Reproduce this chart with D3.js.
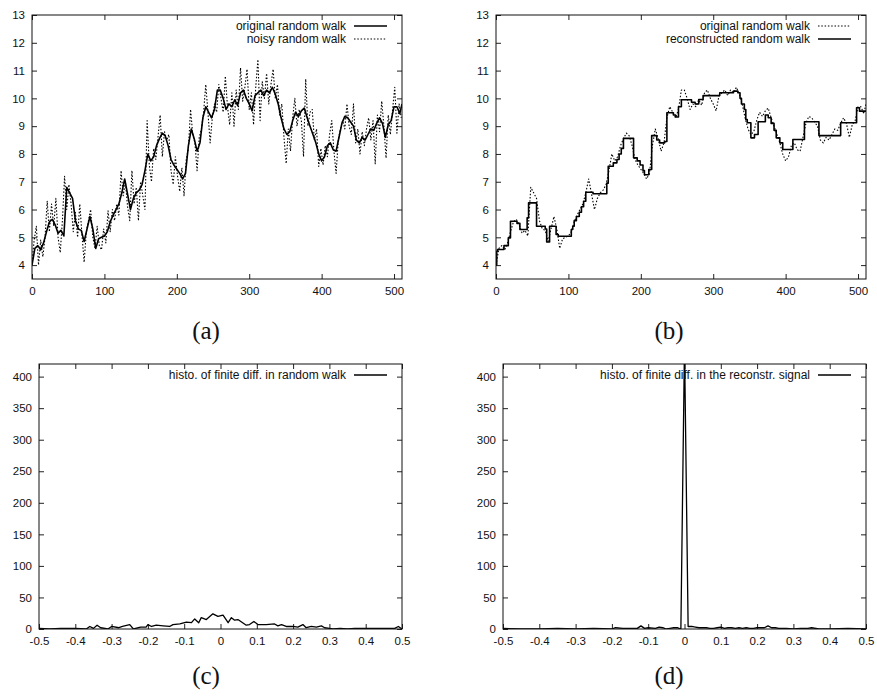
<!DOCTYPE html>
<meta charset="utf-8">
<style>
body { margin: 0; background: #fff; }
text { font-family: "Liberation Sans", Arial, sans-serif; fill: #111; }
.tick text { font-size: 11.5px; }
.legend text { font-size: 12px; }
.caption { font-family: "Liberation Serif", serif; font-size: 25px; }
</style>
<body></body>
<script src="https://cdnjs.cloudflare.com/ajax/libs/d3/7.8.5/d3.min.js"></script>
<script>
// [sample index, value] (a)/(b)
const originalWalk = [
  [0,4.0],[4,4.6],[8,4.7],[12,4.55],[16,4.8],[20,5.2],[24,5.55],[28,5.65],[32,5.45],[36,5.15],
  [40,5.25],[44,5.05],[48,6.8],[52,6.6],[56,6.4],[60,5.6],[64,5.3],[68,5.25],[72,4.85],[76,5.3],
  [80,5.75],[84,5.3],[88,4.6],[92,4.95],[96,5.0],[100,5.05],[104,5.2],[108,5.55],[112,5.8],[116,6.0],
  [120,6.2],[124,6.6],[128,7.1],[132,6.55],[136,6.0],[140,6.4],[144,6.6],[148,6.7],[152,6.9],[156,7.4],
  [160,8.0],[164,7.75],[168,7.9],[172,8.3],[176,8.55],[180,8.75],[184,8.65],[188,8.3],[192,7.8],[196,7.6],
  [200,7.45],[204,7.3],[208,7.1],[212,7.3],[216,8.3],[220,8.9],[224,8.55],[228,8.1],[232,8.4],[236,9.3],
  [240,9.7],[244,9.5],[248,9.3],[252,9.6],[256,10.3],[260,10.3],[264,10.0],[268,9.6],[272,9.8],[276,9.7],
  [280,9.95],[284,9.75],[288,10.2],[292,10.3],[296,10.0],[300,9.8],[304,9.55],[308,10.1],[312,10.2],[316,10.3],
  [320,10.1],[324,10.3],[328,10.2],[332,10.4],[336,10.15],[340,9.8],[344,9.3],[348,8.9],[352,8.7],[356,8.8],
  [360,9.2],[364,9.5],[368,9.35],[372,9.55],[376,9.65],[380,9.3],[384,9.0],[388,8.7],[392,8.4],[396,8.0],
  [400,7.75],[404,7.9],[408,8.3],[412,8.4],[416,8.15],[420,8.1],[424,8.6],[428,9.1],[432,9.35],[436,9.3],
  [440,9.15],[444,9.0],[448,8.5],[452,8.4],[456,8.6],[460,8.5],[464,8.7],[468,8.9],[472,8.85],[476,9.1],
  [480,9.3],[484,9.1],[488,8.6],[492,9.05],[496,9.2],[500,9.7],[504,9.7],[508,9.45],[511,9.8]
]

const noisyWalk = [
  [0,4.1],[3,4.9],[6,5.4],[9,4.0],[12,4.9],[15,4.3],[18,5.0],[21,6.3],[24,5.2],[27,6.2],
  [30,5.4],[33,6.4],[36,5.0],[39,4.45],[42,5.6],[45,7.2],[48,6.0],[51,6.9],[54,6.2],[57,5.2],
  [60,5.9],[63,5.0],[66,6.2],[69,5.1],[72,4.1],[75,5.2],[78,5.6],[81,6.0],[84,5.0],[87,4.6],
  [90,5.4],[93,4.7],[96,4.55],[99,5.3],[102,4.8],[105,5.95],[108,5.2],[111,6.0],[114,5.6],[117,6.2],
  [120,5.8],[123,7.4],[126,6.5],[129,7.0],[132,6.1],[135,5.6],[138,7.4],[141,6.2],[144,6.8],[147,5.6],
  [150,7.0],[153,6.5],[156,6.0],[159,9.2],[162,7.6],[165,7.0],[168,8.2],[171,7.8],[174,8.6],[177,9.4],
  [180,7.9],[183,8.8],[186,8.5],[189,8.7],[192,7.4],[195,6.9],[198,7.9],[201,7.2],[204,6.65],[207,7.5],
  [210,6.5],[213,7.8],[216,8.2],[219,9.6],[222,8.7],[225,8.4],[228,7.4],[231,8.6],[234,8.9],[237,9.5],
  [240,10.5],[243,9.5],[246,8.4],[249,9.3],[252,9.8],[255,9.5],[258,10.5],[261,10.0],[264,9.5],[267,10.8],
  [270,9.7],[273,9.05],[276,10.2],[279,9.0],[282,10.3],[285,9.6],[288,11.1],[291,9.9],[294,10.4],[297,11.05],
  [300,9.6],[303,10.2],[306,9.05],[309,10.4],[312,11.4],[315,9.2],[318,10.6],[321,10.0],[324,10.9],[327,9.8],
  [330,10.5],[333,11.05],[336,10.0],[339,10.5],[342,9.4],[345,9.8],[348,8.6],[351,7.65],[354,8.9],[357,8.1],
  [360,9.3],[363,10.0],[366,9.0],[369,9.6],[372,9.2],[375,7.9],[378,10.7],[381,9.0],[384,9.5],[387,9.6],
  [390,8.5],[393,8.9],[396,7.55],[399,8.2],[402,7.6],[405,8.3],[408,7.9],[411,8.7],[414,9.2],[417,8.1],
  [420,7.3],[423,8.5],[426,8.9],[429,9.2],[432,8.9],[435,9.8],[438,9.0],[441,8.7],[444,9.8],[447,8.4],
  [450,8.9],[453,8.0],[456,8.8],[459,8.3],[462,8.9],[465,9.3],[468,8.5],[471,9.2],[474,7.65],[477,9.4],
  [480,8.8],[483,9.9],[486,9.0],[489,7.85],[492,9.4],[495,8.7],[498,9.6],[501,10.4],[504,8.75],[507,9.8],
  [510,9.3]
]

// piecewise-constant reconstruction: [start index, level]
const reconstructedSteps = [
  [0,4.0],[1,4.5],[2,4.56],[11,4.7],[17,4.98],[20,5.58],[29,5.5],[33,5.28],[43,5.7],[45,6.24],
  [56,5.4],[68,5.3],[70,4.83],[74,5.4],[83,5.1],[86,5.04],[104,5.28],[106,5.4],[108,5.6],[111,5.75],
  [115,5.9],[118,6.1],[121,6.3],[124,6.62],[134,6.57],[153,6.95],[155,7.56],[162,7.68],[167,7.8],[170,8.0],
  [173,8.2],[176,8.56],[190,7.86],[195,7.75],[199,7.6],[203,7.4],[205,7.25],[211,7.44],[215,8.66],[222,8.5],
  [226,8.4],[233,8.45],[236,9.48],[245,9.4],[248,9.33],[252,9.7],[256,9.95],[270,9.86],[275,9.8],[280,9.96],
  [286,10.1],[309,10.2],[328,10.26],[334,10.2],[337,10.0],[339,9.8],[343,9.6],[345,9.24],[347,9.12],[352,8.58],
  [357,8.7],[362,9.16],[372,9.4],[376,9.3],[380,9.1],[384,8.85],[387,8.58],[392,8.4],[396,8.16],[410,8.52],
  [426,9.16],[446,8.66],[476,9.12],[498,9.66],[502,9.54],[511,9.54]
]

// histograms: [difference, count]
const histRandomWalk = [
  [-0.5,1],[-0.47,0],[-0.44,1],[-0.4,1],[-0.37,0],[-0.36,4],[-0.35,1],[-0.34,6],[-0.33,2],[-0.31,0],
  [-0.3,4],[-0.28,2],[-0.27,4],[-0.25,7],[-0.24,0],[-0.22,3],[-0.205,3],[-0.2,7],[-0.19,4],[-0.177,6],
  [-0.158,5],[-0.14,4],[-0.131,7],[-0.112,8],[-0.094,11],[-0.08,10],[-0.071,16],[-0.06,10],[-0.053,18],[-0.039,15],
  [-0.021,24],[-0.007,20],[0.007,22],[0.021,10],[0.03,18],[0.039,14],[0.048,15],[0.071,6],[0.08,7],[0.092,12],
  [0.103,7],[0.126,7],[0.149,8],[0.158,5],[0.168,7],[0.181,4],[0.2,4],[0.213,3],[0.227,7],[0.236,2],
  [0.25,4],[0.264,3],[0.278,5],[0.287,2],[0.3,1],[0.31,0],[0.33,1],[0.35,0],[0.37,1],[0.39,1],
  [0.41,1],[0.44,1],[0.48,1],[0.49,4],[0.5,0]
]

const histReconstructed = [
  [-0.5,1],[-0.45,0],[-0.4,0],[-0.35,1],[-0.3,0],[-0.25,1],[-0.2,0],[-0.19,2],[-0.17,1],[-0.15,1],
  [-0.13,1],[-0.12,5],[-0.11,1],[-0.1,2],[-0.08,1],[-0.07,3],[-0.06,2],[-0.05,0],[-0.04,1],[-0.03,2],
  [-0.02,2],[-0.01,0],[0,450],[0.01,4],[0.02,4],[0.03,3],[0.04,2],[0.05,2],[0.06,2],[0.07,1],
  [0.08,1],[0.09,2],[0.1,3],[0.11,1],[0.12,2],[0.13,2],[0.14,1],[0.15,2],[0.16,1],[0.17,2],
  [0.18,1],[0.19,1],[0.2,2],[0.21,2],[0.22,2],[0.23,5],[0.24,2],[0.25,2],[0.26,1],[0.28,1],
  [0.3,0],[0.32,1],[0.34,1],[0.35,2],[0.37,0],[0.4,0],[0.45,1],[0.5,0]
]

const walkXTicks = [0, 100, 200, 300, 400, 500]
const walkYTicks = [4, 5, 6, 7, 8, 9, 10, 11, 12, 13]
const histXTicks = [-0.5, -0.4, -0.3, -0.2, -0.1, 0, 0.1, 0.2, 0.3, 0.4, 0.5]
const histYTicks = [0, 50, 100, 150, 200, 250, 300, 350, 400]

const DOTTED = '1.5,1.8'

const svg = d3.select('body').append('svg')
    .attr('width', 877)
    .attr('height', 696)

let clipId = 0

function createPanel (box, xDomain, yDomain, xTicks, yTicks) {
    const x = d3.scaleLinear().domain(xDomain).range([box.left, box.right])
    const y = d3.scaleLinear().domain(yDomain).range([box.bottom, box.top])
    const g = svg.append('g')
    const fmt = d => String(+d.toFixed(1))
    const tick = 5

    g.append('g')
        .attr('transform', `translate(0,${box.bottom})`)
        .call(d3.axisBottom(x).tickValues(xTicks).tickFormat(fmt).tickSize(-tick).tickPadding(8))
    g.append('g')
        .attr('transform', `translate(0,${box.top})`)
        .call(d3.axisTop(x).tickValues(xTicks).tickFormat('').tickSize(-tick))
    g.append('g')
        .attr('transform', `translate(${box.left},0)`)
        .call(d3.axisLeft(y).tickValues(yTicks).tickFormat(fmt).tickSize(-tick).tickPadding(7))
    g.append('g')
        .attr('transform', `translate(${box.right},0)`)
        .call(d3.axisRight(y).tickValues(yTicks).tickFormat('').tickSize(-tick))

    g.selectAll('.domain').remove()
    g.selectAll('.tick line').attr('stroke', '#222')
    g.selectAll('.tick text').attr('font-family', null).attr('font-size', null).attr('fill', '#111')

    const id = 'clip' + (clipId++)
    g.append('clipPath').attr('id', id)
        .append('rect')
            .attr('x', box.left).attr('y', box.top)
            .attr('width', box.right - box.left).attr('height', box.bottom - box.top)

    const plot = g.append('g').attr('clip-path', `url(#${id})`)

    g.append('rect')
        .attr('x', box.left).attr('y', box.top)
        .attr('width', box.right - box.left).attr('height', box.bottom - box.top)
        .attr('fill', 'none')
        .attr('stroke', '#111')
        .attr('stroke-width', 1)

    return { g, plot, x, y, box }
}

function drawSeries (panel, data, dash, width, curve) {
    const line = d3.line()
        .x(d => panel.x(d[0]))
        .y(d => panel.y(d[1]))
        .curve(curve || d3.curveLinear)
    panel.plot.append('path')
        .datum(data)
        .attr('d', line)
        .attr('fill', 'none')
        .attr('stroke', '#000')
        .attr('stroke-width', width)
        .attr('stroke-dasharray', dash)
        .attr('stroke-linejoin', 'round')
}

function drawLegend (panel, rows) {
    const right = panel.box.right
    const leg = panel.g.append('g').attr('class', 'legend')
    rows.forEach((r, i) => {
        const yy = panel.box.top + 11 + i * 13
        leg.append('text')
            .attr('x', right - 56)
            .attr('y', yy)
            .attr('dy', '0.35em')
            .attr('text-anchor', 'end')
            .text(r.label)
        leg.append('line')
            .attr('x1', right - 48).attr('x2', right - 15)
            .attr('y1', yy).attr('y2', yy)
            .attr('stroke', '#000')
            .attr('stroke-width', r.width)
            .attr('stroke-dasharray', r.dash)
    })
}

function caption (x, y, label) {
    svg.append('text')
        .attr('class', 'caption')
        .attr('x', x).attr('y', y)
        .attr('text-anchor', 'middle')
        .text(label)
}

// (a)
const pa = createPanel({ left: 32, right: 402, top: 15, bottom: 279 }, [0, 511], [3.5, 13], walkXTicks, walkYTicks)
drawSeries(pa, noisyWalk, DOTTED, 1.1)
drawSeries(pa, originalWalk, null, 1.6)
drawLegend(pa, [
    { label: 'original random walk', dash: null, width: 1.6 },
    { label: 'noisy random walk', dash: DOTTED, width: 1.1 }
])

// (b)
const pb = createPanel({ left: 496, right: 866, top: 15, bottom: 279 }, [0, 511], [3.5, 13], walkXTicks, walkYTicks)
drawSeries(pb, originalWalk, DOTTED, 1.1)
drawSeries(pb, reconstructedSteps, null, 1.6, d3.curveStepAfter)
drawLegend(pb, [
    { label: 'original random walk', dash: DOTTED, width: 1.1 },
    { label: 'reconstructed random walk', dash: null, width: 1.6 }
])

// (c)
const pc = createPanel({ left: 39, right: 402, top: 364, bottom: 629 }, [-0.5, 0.5], [0, 420], histXTicks, histYTicks)
drawSeries(pc, histRandomWalk, null, 1.3)
drawLegend(pc, [{ label: 'histo. of finite diff. in random walk', dash: null, width: 1.3 }])

// (d)
const pd = createPanel({ left: 503, right: 866, top: 364, bottom: 629 }, [-0.5, 0.5], [0, 420], histXTicks, histYTicks)
drawSeries(pd, histReconstructed, null, 1.3)
drawLegend(pd, [{ label: 'histo. of finite diff. in the reconstr. signal', dash: null, width: 1.3 }])

caption(206, 339, '(a)')
caption(669, 339, '(b)')
caption(206, 684, '(c)')
caption(669, 684, '(d)')
</script>
